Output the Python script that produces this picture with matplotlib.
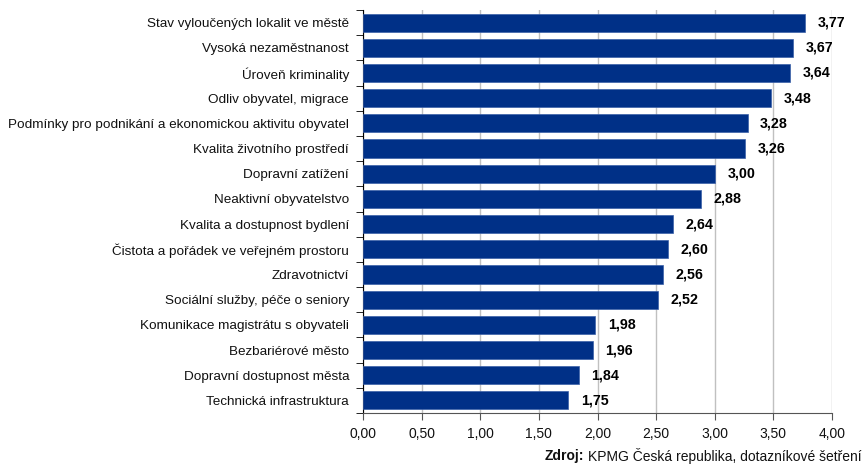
import matplotlib
matplotlib.use("Agg")
import matplotlib.pyplot as plt
import numpy as np

categories = [
    "Stav vyloučených lokalit ve městě",
    "Vysoká nezaměstnanost",
    "Úroveň kriminality",
    "Odliv obyvatel, migrace",
    "Podmínky pro podnikání a ekonomickou aktivitu obyvatel",
    "Kvalita životního prostředí",
    "Dopravní zatížení",
    "Neaktivní obyvatelstvo",
    "Kvalita a dostupnost bydlení",
    "Čistota a pořádek ve veřejném prostoru",
    "Zdravotnictví",
    "Sociální služby, péče o seniory",
    "Komunikace magistrátu s obyvateli",
    "Bezbariérové město",
    "Dopravní dostupnost města",
    "Technická infrastruktura",
]
values = [3.77, 3.67, 3.64, 3.48, 3.28, 3.26, 3.00, 2.88, 2.64, 2.60, 2.56, 2.52, 1.98, 1.96, 1.84, 1.75]
xticks = [0.0, 0.5, 1.0, 1.5, 2.0, 2.5, 3.0, 3.5, 4.0]

plt.rcParams['font.family'] = ['Liberation Sans', 'DejaVu Sans']

fig = plt.figure(figsize=(8.67, 4.66), dpi=100)
ax = fig.add_axes([363/867, 1 - 413/466, (832-363)/867, (413-10)/466])

n = len(categories)
y = np.arange(n)
ax.barh(y, values, height=0.72, color="#003087", edgecolor="#3a5fa8", linewidth=0.5, zorder=3)
ax.set_ylim(n - 0.5, -0.5)
ax.set_xlim(0, 4)

for yi, v in zip(y, values):
    ax.annotate(f"{v:.2f}".replace(".", ","), (v, yi), xytext=(9, 0), textcoords="offset points",
                ha="left", va="center", fontsize=10.3, fontweight="bold", color="black", zorder=4)

ax.set_yticks(y)
ax.set_yticklabels(categories, fontsize=9.7, color="#111111")
ax.tick_params(axis="y", which="major", length=0, pad=10)
ax.set_yticks(np.arange(n + 1) - 0.5, minor=True)
ax.tick_params(axis="y", which="minor", length=5, direction="out", color="black")

ax.set_xticks(xticks)
ax.set_xticklabels([f"{t:.2f}".replace(".", ",") for t in xticks], fontsize=10, color="#111111")
ax.tick_params(axis="x", length=5, color="#555555", pad=5)

ax.grid(axis="x", color="#c0c0c0", linewidth=1, zorder=0)
ax.spines["top"].set_visible(False)
ax.spines["right"].set_visible(False)
ax.spines["left"].set_color("black")
ax.spines["bottom"].set_color("#555555")

t1 = fig.text(862/867, 1 - 456/466, "KPMG Česká republika, dotazníkové šetření", fontsize=10, ha="right", va="center", color="#111111")
fig.canvas.draw()
bb = t1.get_window_extent()
fig.text(bb.x0 / 867 - 4/867, 1 - 456/466, "Zdroj:", fontsize=10, fontweight="bold", ha="right", va="center", color="#111111")

fig.savefig("out.png", dpi=100)
